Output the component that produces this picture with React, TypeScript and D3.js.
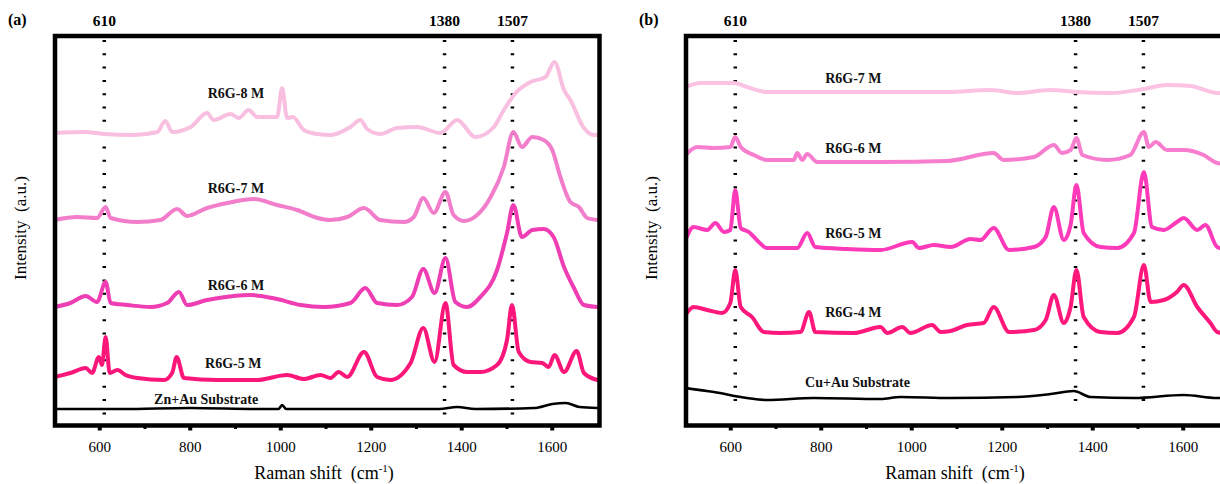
import React from 'react';
import * as d3 from 'd3';

type Pt = [number, number];

// Raman shift (cm-1) vs intensity (a.u., stacked as displayed)
// ---- panel (a), Zn+Au substrate ----
const a8M: Pt[] = [[500, 293], [565, 294], [609, 292], [675, 291], [727, 294], [745, 305], [760, 294], [801, 299], [837, 313], [852, 306], [889, 312], [907, 308], [929, 316], [948, 309], [992, 309], [1003, 338], [1014, 308], [1027, 309], [1051, 296], [1081, 292], [1110, 291], [1154, 299], [1176, 306], [1191, 297], [1220, 292], [1257, 298], [1301, 299], [1353, 293], [1390, 306], [1430, 289], [1471, 299], [1493, 316], [1519, 333], [1552, 344], [1585, 349], [1605, 364], [1626, 336], [1640, 326], [1670, 298], [1692, 291], [1700, 291]];
const a7M: Pt[] = [[500, 206], [550, 209], [594, 208], [613, 219], [624, 208], [683, 204], [734, 206], [771, 217], [793, 210], [837, 218], [882, 223], [941, 227], [992, 221], [1036, 216], [1081, 208], [1110, 206], [1147, 209], [1184, 218], [1220, 206], [1272, 204], [1294, 209], [1315, 228], [1338, 213], [1364, 234], [1382, 211], [1405, 205], [1434, 211], [1464, 229], [1493, 259], [1514, 294], [1533, 279], [1556, 289], [1581, 286], [1600, 276], [1618, 249], [1640, 224], [1659, 219], [1677, 208], [1700, 206]];
const a6M: Pt[] = [[500, 119], [535, 123], [569, 130], [594, 124], [613, 144], [624, 123], [661, 121], [712, 119], [749, 123], [775, 134], [793, 121], [837, 126], [896, 130], [933, 131], [992, 127], [1044, 121], [1095, 119], [1154, 123], [1187, 138], [1213, 123], [1257, 121], [1290, 129], [1315, 157], [1340, 133], [1364, 168], [1386, 124], [1412, 119], [1441, 129], [1478, 156], [1500, 193], [1514, 221], [1533, 189], [1556, 196], [1581, 197], [1603, 189], [1626, 159], [1648, 138], [1670, 121], [1700, 119]];
const a5M: Pt[] = [[500, 49], [535, 53], [569, 58], [583, 53], [598, 69], [605, 61], [613, 89], [622, 53], [639, 56], [657, 51], [683, 48], [742, 46], [760, 53], [770, 69], [786, 48], [860, 46], [948, 46], [1014, 51], [1051, 47], [1088, 51], [1110, 48], [1128, 54], [1147, 49], [1184, 74], [1213, 49], [1242, 46], [1287, 63], [1315, 98], [1340, 64], [1364, 123], [1382, 61], [1412, 54], [1441, 54], [1478, 61], [1500, 86], [1511, 121], [1526, 74], [1552, 64], [1578, 63], [1592, 59], [1605, 71], [1626, 54], [1654, 75], [1670, 53], [1700, 46]];
const aSub: Pt[] = [[500, 17], [650, 17], [800, 18], [950, 17], [995, 17], [1003, 21], [1012, 17], [1200, 17], [1350, 17], [1390, 19], [1430, 17], [1560, 18], [1600, 22], [1630, 23], [1660, 19], [1700, 18]];

// ---- panel (b), Cu+Au substrate ----
const b7M: Pt[] = [[500, 339], [533, 343], [607, 343], [636, 339], [680, 334], [784, 334], [931, 334], [1078, 334], [1174, 336], [1233, 333], [1307, 336], [1362, 334], [1439, 333], [1513, 337], [1564, 341], [1616, 340], [1675, 333], [1700, 333]];
const b6M: Pt[] = [[500, 271], [526, 279], [563, 278], [599, 279], [610, 289], [622, 279], [651, 271], [680, 266], [739, 266], [747, 273], [758, 266], [769, 272], [791, 264], [931, 264], [1078, 265], [1181, 273], [1203, 266], [1270, 269], [1314, 281], [1332, 273], [1351, 276], [1364, 288], [1377, 271], [1432, 266], [1483, 271], [1513, 294], [1524, 279], [1539, 284], [1564, 276], [1601, 276], [1645, 271], [1675, 263], [1700, 262]];
const b5M: Pt[] = [[500, 186], [518, 199], [548, 196], [566, 203], [585, 194], [599, 196], [610, 236], [622, 198], [640, 194], [662, 184], [680, 178], [747, 178], [769, 193], [787, 179], [857, 177], [931, 176], [1001, 184], [1016, 178], [1049, 181], [1086, 179], [1130, 187], [1152, 186], [1181, 198], [1215, 176], [1270, 179], [1296, 189], [1314, 219], [1336, 186], [1351, 201], [1364, 241], [1380, 193], [1417, 179], [1454, 178], [1491, 193], [1513, 254], [1531, 199], [1557, 196], [1586, 204], [1601, 208], [1631, 196], [1649, 201], [1675, 179], [1700, 176]];
const b4M: Pt[] = [[500, 111], [518, 119], [548, 116], [581, 113], [599, 123], [610, 156], [622, 119], [647, 109], [673, 94], [710, 93], [754, 94], [773, 114], [787, 94], [872, 93], [931, 99], [946, 93], [979, 99], [997, 93], [1045, 101], [1064, 94], [1086, 95], [1122, 101], [1159, 103], [1181, 119], [1215, 94], [1270, 96], [1296, 106], [1314, 131], [1336, 103], [1351, 119], [1364, 156], [1380, 109], [1417, 94], [1454, 93], [1491, 109], [1513, 161], [1528, 124], [1557, 126], [1586, 134], [1601, 141], [1631, 119], [1660, 103], [1675, 94], [1700, 92]];
const bSub: Pt[] = [[500, 38], [563, 34], [636, 28], [680, 26], [784, 28], [931, 27], [975, 29], [1086, 28], [1233, 29], [1307, 32], [1358, 35], [1395, 29], [1491, 28], [1601, 31], [1675, 28], [1700, 28]];

const peakShifts = [610, 1362, 1512];
const peakLabels = ['610', '1380', '1507'];
const majorTicks = [600, 800, 1000, 1200, 1400, 1600];
const minorTicks = [700, 900, 1100, 1300, 1500];

const labelsA = ['R6G-8 M', 'R6G-7 M', 'R6G-6 M', 'R6G-5 M', 'Zn+Au Substrate'];
const labelsB = ['R6G-7 M', 'R6G-6 M', 'R6G-5 M', 'R6G-4 M', 'Cu+Au Substrate'];

const colorsA = ['#f8bfe0', '#f27ecb', '#ef3db3', '#fb1679', '#000000'];
const colorsB = ['#fbc2e3', '#f77dcf', '#fd3ab9', '#ff187c', '#000000'];

const FONT = '"Liberation Serif", "Times New Roman", serif';

const x = d3.scaleLinear().domain([500, 1700]).range([54.5, 597.5]);
const y = d3.scaleLinear().domain([0, 390]).range([426, 36]);
const line = d3.line<Pt>().x(d => x(d[0])).y(d => y(d[1])).curve(d3.curveMonotoneX);

type PanelProps = {
  id: string;
  tag: string;
  dx: number;
  data: Pt[][];
  labels: string[];
  colors: string[];
  labelPos: Pt[];
  dashEnd: number;
};

function Panel({ id, tag, dx, data, labels, colors, labelPos, dashEnd }: PanelProps) {
  const L = 55, R = 599.5, T = 36, B = 425.5;
  return (
    <g transform={`translate(${dx},0)`}>
      <defs>
        <clipPath id={`clip-${id}`}>
          <rect x={L} y={T} width={R - L} height={B - T} />
        </clipPath>
      </defs>
      <text x={8} y={25} fontSize={16} fontWeight="bold">{tag}</text>

      {peakShifts.map((p, i) => (
        <g key={p}>
          <text x={x(p)} y={26} textAnchor="middle" fontSize={15.5} fontWeight="bold">{peakLabels[i]}</text>
          <line x1={x(p)} x2={x(p)} y1={40} y2={dashEnd} stroke="#000" strokeWidth={3.5} strokeDasharray="2 11.3" />
        </g>
      ))}

      <g clipPath={`url(#clip-${id})`}>
        {data.map((d, i) => (
          <path key={i} d={line(d) ?? ''} fill="none" stroke={colors[i]}
            strokeWidth={i === data.length - 1 ? 2.6 : 4} strokeLinejoin="round" strokeLinecap="round" />
        ))}
      </g>

      {labels.map((t, i) => (
        <text key={t} x={x(labelPos[i][0])} y={y(labelPos[i][1])} textAnchor="middle"
          fontSize={14} fontWeight="bold" fill="#111">{t}</text>
      ))}

      {/* frame */}
      <path d={`M${L},${B} V${T} H${R} V${B} Z`} fill="none" stroke="#000" strokeWidth={4.5} />

      {majorTicks.map(t => (
        <g key={t}>
          <rect x={x(t) - 2} y={B} width={4} height={5} fill="#000" />
          <text x={x(t)} y={452} textAnchor="middle" fontSize={15}>{t}</text>
        </g>
      ))}
      {minorTicks.map(t => (
        <rect key={t} x={x(t) - 1.5} y={B} width={3} height={3.5} fill="#000" />
      ))}

      <text x={x(1100) - 2} y={479} textAnchor="middle" fontSize={18} xmlSpace="preserve">
        Raman shift  (cm<tspan fontSize={11} dy={-7}>-1</tspan><tspan dy={7}>)</tspan>
      </text>
      <text transform={`translate(26,228) rotate(-90)`} textAnchor="middle" fontSize={17} xmlSpace="preserve">
        Intensity  (a.u.)
      </text>
    </g>
  );
}

export default function App() {
  const labelPosA: Pt[] = [[901, 328], [901, 233], [901, 136], [895, 58], [835, 22]];
  const labelPosB: Pt[] = [[871, 343], [871, 273], [871, 188], [871, 109], [880, 39]];
  return (
    <svg width={1220} height={484} style={{ position: 'absolute', left: 0, top: 0, background: '#fff' }}
      fontFamily={FONT}>
      <rect width={1220} height={484} fill="#fff" />
      <Panel id="a" tag="(a)" dx={0} data={[a8M, a7M, a6M, a5M, aSub]} labels={labelsA}
        colors={colorsA} labelPos={labelPosA} dashEnd={420} />
      <Panel id="b" tag="(b)" dx={631} data={[b7M, b6M, b5M, b4M, bSub]} labels={labelsB}
        colors={colorsB} labelPos={labelPosB} dashEnd={412} />
    </svg>
  );
}
